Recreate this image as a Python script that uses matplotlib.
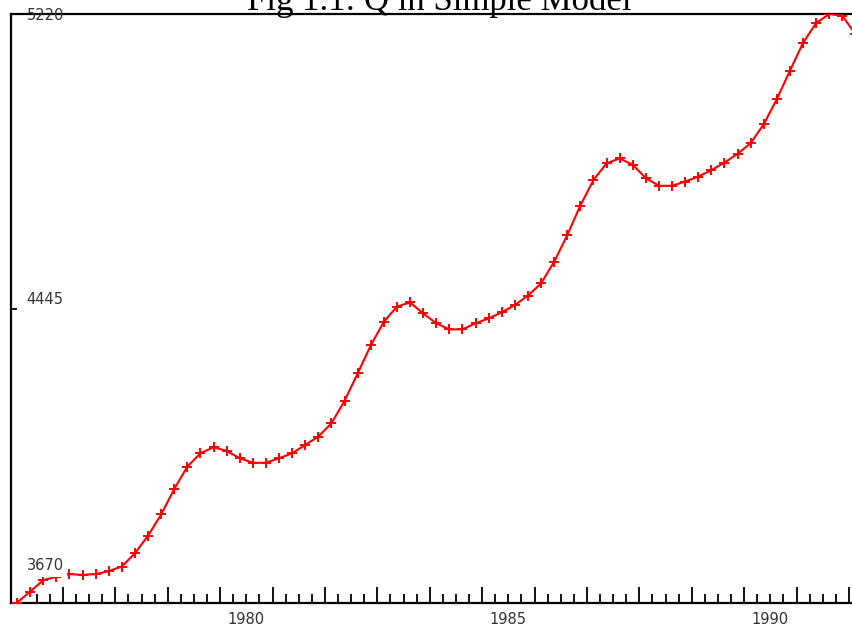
import numpy as np
import pandas as pd
import matplotlib
matplotlib.use("Agg")
import matplotlib.pyplot as plt

# Quarterly output Q, 1976Q1 - 1992Q1
start_quarter = "1976Q1"
q_values = [
    3671, 3700, 3730, 3739, 3746, 3744, 3746, 3754,
    3766, 3801, 3847, 3903, 3970, 4029, 4064, 4080,
    4070, 4051, 4039, 4039, 4051, 4064, 4086, 4108,
    4143, 4202, 4274, 4348, 4410, 4450, 4461, 4432,
    4406, 4390, 4390, 4406, 4419, 4435, 4454, 4479,
    4511, 4568, 4638, 4716, 4783, 4827, 4840, 4823,
    4788, 4768, 4768, 4779, 4792, 4809, 4829, 4852,
    4880, 4930, 4996, 5071, 5144, 5196, 5220, 5215,
    5167,
]
y_ticks = [3670, 4445, 5220]
year_labels = [1980, 1985, 1990]

periods = pd.period_range(start_quarter, periods=len(q_values), freq="Q")
t = periods.year + (periods.quarter - 0.5) / 4.0

W, H = 852, 625
fig = plt.figure(figsize=(W / 100, H / 100), dpi=100)
x0, x1 = 1976.0, 1992.25
px_per_year = 52.4
ax = fig.add_axes([10.5 / W, 1 - 603 / H, (x1 - x0) * px_per_year / W, 589 / H])

ax.plot(t, q_values, color="red", lw=1.5, marker="+", ms=7, mew=1.4, zorder=3)

ax.set_xlim(x0, x1)
ax.set_ylim(y_ticks[0], y_ticks[-1])

for s in ["top", "bottom", "left", "right"]:
    ax.spines[s].set_linewidth(1.6)
    ax.spines[s].set_color("black")

# year ticks on the bottom axis, quarter minor ticks
ax.set_xticks(np.arange(1977, 1993))
ax.set_xticks(np.arange(1976.5, 1992.25, 0.25), minor=True)
ax.tick_params(axis="x", which="major", direction="in", length=11.5, width=1.3,
               labelbottom=False, top=False)
ax.tick_params(axis="x", which="minor", direction="in", length=6.5, width=1.3, top=False)
ax.set_yticks(y_ticks)
ax.tick_params(axis="y", direction="in", length=4.5, width=1.3, labelleft=False, right=False)

label_kw = dict(fontsize=10.5, color="#333333", family="DejaVu Sans")

# value labels sit just inside the left spine
y_offsets = {3670: 37, 4445: 9, 5220: -2}
for v in y_ticks:
    txt = ax.annotate(str(v), xy=(0, v), xycoords=("axes fraction", "data"),
                      xytext=(16, y_offsets[v]), textcoords="offset pixels",
                      ha="left", va="center", zorder=5, **label_kw)
    if v == y_ticks[0]:
        txt.set_bbox(dict(facecolor="white", edgecolor="none", pad=2.5))

# year labels centred on each year
for yr in year_labels:
    ax.annotate(str(yr), xy=(yr + 0.5, 0), xycoords=("data", "axes fraction"),
                xytext=(0, -16), textcoords="offset pixels",
                ha="center", va="center", **label_kw)

fig.text(439 / W, 1 - 10 / H, "Fig 1.1: Q in Simple Model", ha="center", va="baseline",
         fontsize=25, family="Liberation Serif", color="black")

fig.savefig("out.png", dpi=100)
